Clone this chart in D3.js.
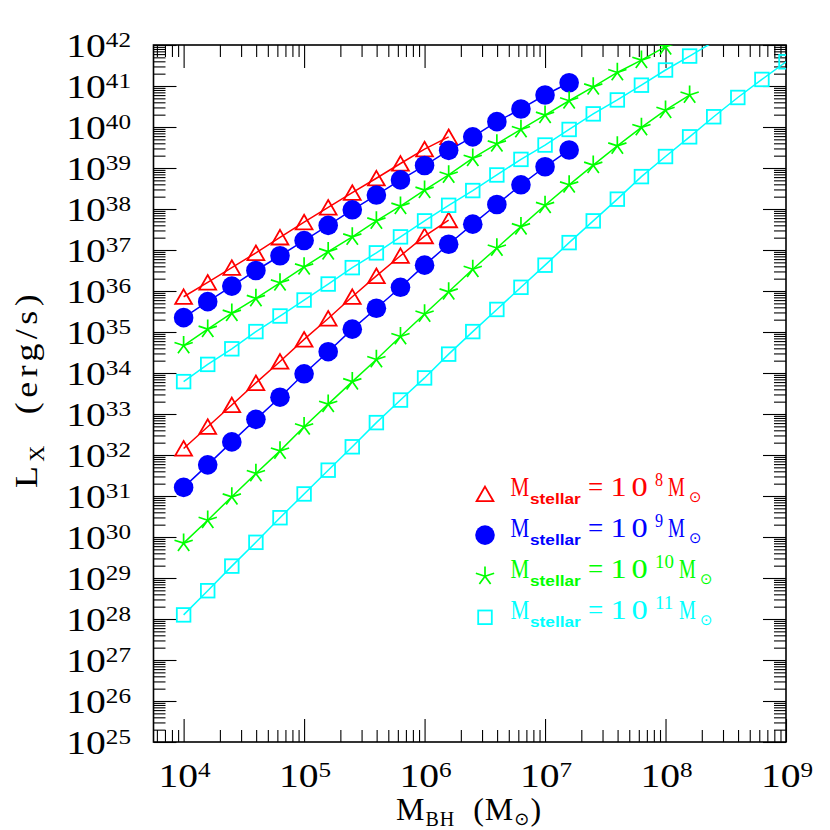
<!DOCTYPE html>
<html>
<head>
<meta charset="utf-8">
<script src="https://d3js.org/d3.v7.min.js"></script>
<style>
  body { margin: 0; background: #fff; }
  svg text { font-family: "Liberation Serif", serif; fill: #000; }
</style>
</head>
<body>
<svg id="chart" width="830" height="830"></svg>
<script>
// log10 M_BH grid (Msun)
var logMbh = [4.0, 4.2, 4.4, 4.6, 4.8, 5.0, 5.2, 5.4, 5.6, 5.8, 6.0, 6.2, 6.4,
              6.6, 6.8, 7.0, 7.2, 7.4, 7.6, 7.8, 8.0, 8.2, 8.4, 8.6, 8.8, 9.0];

// log10 L_X (erg/s), upper and lower track per stellar mass
var lxUpper8  = [35.86, 36.21, 36.57, 36.93, 37.31, 37.68, 38.04, 38.40, 38.75, 39.11, 39.46, 39.76];
var lxLower8  = [32.16, 32.69, 33.22, 33.76, 34.28, 34.82, 35.33, 35.86, 36.37, 36.86, 37.34, 37.73];
var lxUpper9  = [35.35, 35.74, 36.12, 36.50, 36.86, 37.23, 37.60, 37.98, 38.34, 38.71, 39.06, 39.43,
                 39.76, 40.13, 40.44, 40.78, 41.08];
var lxLower9  = [31.21, 31.76, 32.32, 32.87, 33.41, 33.98, 34.52, 35.07, 35.58, 36.09, 36.63, 37.14,
                 37.63, 38.11, 38.59, 39.03, 39.44];
var lxUpper10 = [34.67, 35.07, 35.46, 35.82, 36.20, 36.59, 36.96, 37.32, 37.71, 38.07, 38.46, 38.83,
                 39.24, 39.59, 39.94, 40.29, 40.64, 40.98, 41.33, 41.63, 41.96, 42.30];
var lxLower10 = [29.85, 30.41, 30.98, 31.55, 32.10, 32.69, 33.24, 33.79, 34.33, 34.89, 35.44, 35.98,
                 36.53, 37.05, 37.57, 38.09, 38.59, 39.07, 39.54, 39.99, 40.41, 40.78];
var lxUpper11 = [33.79, 34.21, 34.59, 35.01, 35.39, 35.78, 36.17, 36.57, 36.93, 37.32, 37.71, 38.09,
                 38.45, 38.83, 39.21, 39.56, 39.94, 40.32, 40.66, 41.02, 41.39, 41.73, 42.08];
var lxLower11 = [28.10, 28.69, 29.29, 29.87, 30.47, 31.05, 31.63, 32.20, 32.79, 33.34, 33.88, 34.46,
                 35.01, 35.55, 36.09, 36.63, 37.18, 37.71, 38.24, 38.79, 39.28, 39.76, 40.25, 40.72,
                 41.16, 41.59];

var stellarExp = [8, 9, 10, 11];
var colors = ["#ff0000", "#0000ff", "#00ff00", "#00ffff"];
var symbols = ["triangle", "circle", "star", "square"];

var xMajor = [4, 5, 6, 7, 8, 9];
var yMajor = [25, 26, 27, 28, 29, 30, 31, 32, 33, 34, 35, 36, 37, 38, 39, 40, 41, 42];

var series = [
  {tracks: [lxUpper8, lxLower8]},
  {tracks: [lxUpper9, lxLower9]},
  {tracks: [lxUpper10, lxLower10]},
  {tracks: [lxUpper11, lxLower11]}
];

var L = 153.5, R = 786, T = 45, B = 742;
var svg = d3.select("#chart");

var x = d3.scaleLog().domain([Math.pow(10, 3.75), 1e9]).range([L, R]);
var y = d3.scaleLog().domain([1e25, 1e42]).range([B, T]);

svg.append("defs").append("clipPath").attr("id", "plotclip")
  .append("rect").attr("x", L).attr("y", T).attr("width", R - L).attr("height", B - T);

// ---- ticks (inward, all four sides)
function isPow(v) { return Math.abs(Math.log10(v) - Math.round(Math.log10(v))) < 1e-6; }
var xt = x.ticks(), yt = y.ticks(40);
var xMin = xt.filter(function(v) { return !isPow(v); }), xMaj = xt.filter(isPow);
var yMin = yt.filter(function(v) { return !isPow(v); }), yMaj = yt.filter(isPow);

function addAxis(axis, tr) {
  var g = svg.append("g").attr("transform", tr).call(axis);
  g.select(".domain").remove();
  g.selectAll("line").attr("stroke", "#000").attr("stroke-width", 1.1);
}
addAxis(d3.axisBottom(x).tickValues(xMin).tickSize(-12).tickSizeOuter(0).tickFormat(""), "translate(0," + B + ")");
addAxis(d3.axisBottom(x).tickValues(xMaj).tickSize(-23).tickSizeOuter(0).tickFormat(""), "translate(0," + B + ")");
addAxis(d3.axisTop(x).tickValues(xMin).tickSize(-12).tickSizeOuter(0).tickFormat(""), "translate(0," + T + ")");
addAxis(d3.axisTop(x).tickValues(xMaj).tickSize(-23).tickSizeOuter(0).tickFormat(""), "translate(0," + T + ")");
addAxis(d3.axisLeft(y).tickValues(yMin).tickSize(-12).tickSizeOuter(0).tickFormat(""), "translate(" + L + ",0)");
addAxis(d3.axisLeft(y).tickValues(yMaj).tickSize(-23).tickSizeOuter(0).tickFormat(""), "translate(" + L + ",0)");
addAxis(d3.axisRight(y).tickValues(yMin).tickSize(-12).tickSizeOuter(0).tickFormat(""), "translate(" + R + ",0)");
addAxis(d3.axisRight(y).tickValues(yMaj).tickSize(-23).tickSizeOuter(0).tickFormat(""), "translate(" + R + ",0)");

svg.append("rect").attr("x", L).attr("y", T).attr("width", R - L).attr("height", B - T)
  .attr("fill", "none").attr("stroke", "#000").attr("stroke-width", 1.6);

// ---- tick labels 10^n
function powLabel(px, py, e, anchor) {
  var t = svg.append("g").attr("transform", "translate(" + px + "," + py + ") scale(1.2,1)")
    .append("text").attr("text-anchor", anchor);
  t.append("tspan").attr("font-size", 33).text("10");
  t.append("tspan").attr("font-size", 21).attr("dy", -10).text(e);
}
yMajor.forEach(function(e) { powLabel(131, y(Math.pow(10, e)) + 12, e, "end"); });
xMajor.forEach(function(e) { powLabel(x(Math.pow(10, e)) + 1, 787, e, "middle"); });

// ---- axis titles
var xt1 = svg.append("text").attr("x", 469).attr("y", 820).attr("text-anchor", "middle")
  .style("letter-spacing", "1px");
xt1.append("tspan").attr("font-size", 32).text("M");
xt1.append("tspan").attr("font-size", 20).attr("dy", 6).text("BH");
xt1.append("tspan").attr("font-size", 32).attr("dy", -6).text("\u00a0\u00a0(M");
xt1.append("tspan").attr("font-size", 18).attr("dy", 5).style("font-family", "DejaVu Sans").text("\u2299");
xt1.append("tspan").attr("font-size", 32).attr("dy", -5).text(")");

var yt1 = svg.append("g").attr("transform", "translate(37,389) rotate(-90) scale(1.12,1)")
  .append("text").attr("text-anchor", "middle").style("letter-spacing", "4px");
yt1.append("tspan").attr("font-size", 32).text("L");
yt1.append("tspan").attr("font-size", 20).attr("dy", 7).text("X");
yt1.append("tspan").attr("font-size", 32).attr("dy", -7).text("\u00a0\u00a0(erg/s)");

// ---- markers
function marker(g, type, color, cx, cy) {
  if (type === "circle") {
    g.append("circle").attr("cx", cx).attr("cy", cy).attr("r", 9.8).attr("fill", color);
  } else if (type === "triangle") {
    g.append("path").attr("d", "M" + cx + "," + (cy - 7.4) + "L" + (cx + 8.4) + "," + (cy + 7.2) +
      "L" + (cx - 8.4) + "," + (cy + 7.2) + "Z")
      .attr("fill", "none").attr("stroke", color).attr("stroke-width", 1.8);
  } else if (type === "square") {
    g.append("rect").attr("x", cx - 6.8).attr("y", cy - 6.8).attr("width", 13.6).attr("height", 13.6)
      .attr("fill", "none").attr("stroke", color).attr("stroke-width", 1.8);
  } else {
    var d = "";
    for (var k = 0; k < 5; k++) {
      var a = (-90 + 72 * k) * Math.PI / 180;
      d += "M" + cx + "," + cy + "L" + (cx + 9.6 * Math.cos(a)) + "," + (cy + 9.6 * Math.sin(a));
    }
    g.append("path").attr("d", d).attr("fill", "none").attr("stroke", color).attr("stroke-width", 1.7);
  }
}

var line = d3.line()
  .x(function(d, i) { return x(Math.pow(10, logMbh[i])); })
  .y(function(d) { return y(Math.pow(10, d)); });

var plot = svg.append("g").attr("clip-path", "url(#plotclip)");
series.forEach(function(s, si) {
  s.tracks.forEach(function(tr) {
    plot.append("path").attr("d", line(tr)).attr("fill", "none")
      .attr("stroke", colors[si]).attr("stroke-width", 1.5);
    tr.forEach(function(v, i) {
      var cx = x(Math.pow(10, logMbh[i])), cy = y(Math.pow(10, v));
      if (cy >= T && cy <= B) marker(plot, symbols[si], colors[si], cx, cy);
    });
  });
});

// ---- legend
stellarExp.forEach(function(e, i) {
  var b = 496 + 41.1 * i, c = colors[i];
  var g = svg.append("g");
  marker(g, symbols[i], c, 485, b - 2);
  function piece(px, py, str, size, sx, fam, wt) {
    var t = g.append("g").attr("transform", "translate(" + px + "," + py + ") scale(" + (sx || 1) + ",1)")
      .append("text").attr("font-size", size).style("fill", c).text(str);
    if (fam) t.style("font-family", fam);
    if (wt) t.attr("font-weight", wt);
    return t;
  }
  piece(510.5, b, "M", 27, 0.78);
  piece(530, b + 7.5, "stellar", 15, 1.15, "Liberation Sans", "bold");
  piece(588, b, "=", 27);
  piece(610.5, b, "10", 27, 1.2).style("letter-spacing", "4px");
  var es = String(e), el = es.length === 1 ? 8 : 19;
  piece(655, b - 10, es, 18, es.length === 1 ? 0.9 : 1.05);
  var mx = 655 + el + 5;
  piece(mx, b, "M", 27, 0.7);
  piece(mx + 21, b + 6, "\u2299", 15, 1, "DejaVu Sans");
});
</script>
</body>
</html>
